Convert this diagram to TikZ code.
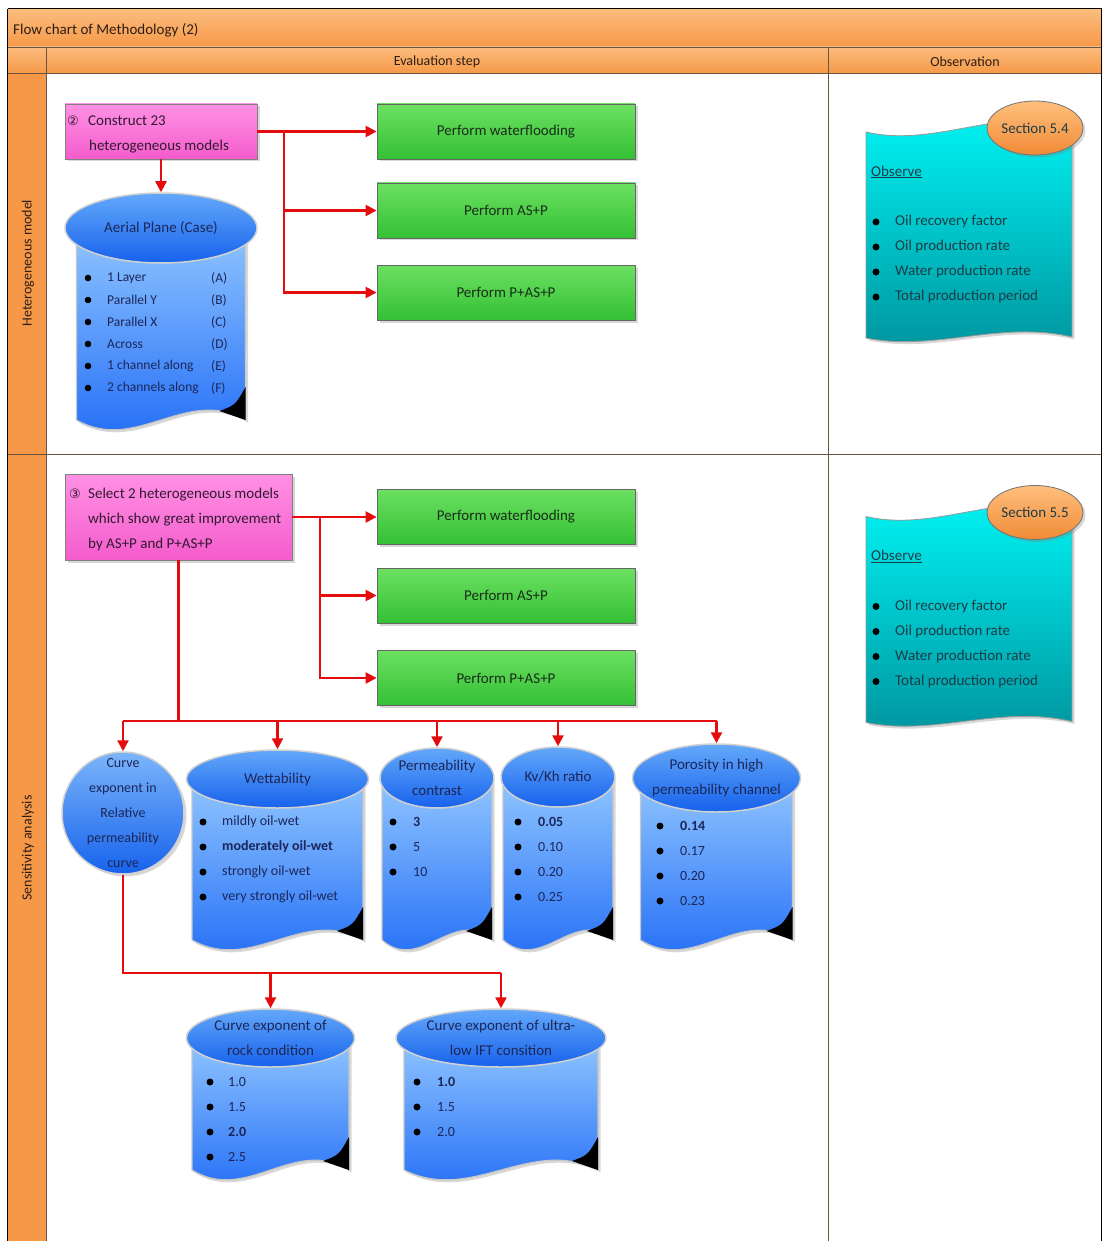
\documentclass[tikz,border=0pt]{standalone}
\usepackage{fontspec}
\setmainfont{Carlito}
\newfontfamily\symfamily{DejaVu Sans}
\usetikzlibrary{arrows.meta,shapes.geometric,shadows}

\definecolor{hdrtop}{RGB}{251,188,125}
\definecolor{hdrbot}{RGB}{246,152,72}
\definecolor{hdrtext}{RGB}{45,30,20}
\definecolor{rulecol}{RGB}{105,85,65}
\definecolor{arrred}{RGB}{228,12,12}
\definecolor{greentop}{RGB}{108,224,98}
\definecolor{greenbot}{RGB}{52,192,52}
\definecolor{greentext}{RGB}{25,45,25}
\definecolor{pinktop}{RGB}{255,145,228}
\definecolor{pinkbot}{RGB}{244,92,204}
\definecolor{pinktext}{RGB}{50,25,50}
\definecolor{cyltop}{RGB}{145,198,255}
\definecolor{cylbot}{RGB}{28,104,246}
\definecolor{captop}{RGB}{100,168,250}
\definecolor{capbot}{RGB}{22,98,236}
\definecolor{navytext}{RGB}{28,38,88}
\definecolor{doctop}{RGB}{0,246,246}
\definecolor{docbot}{RGB}{0,148,158}
\definecolor{obstext}{RGB}{30,60,70}
\definecolor{sectop}{RGB}{255,192,125}
\definecolor{secbot}{RGB}{240,138,55}

\newcommand\setfs[2]{\fontsize{#1}{#2}\selectfont}

\tikzset{
  rule/.style={draw=rulecol, line width=0.9pt},
  hdrlabel/.style={text=hdrtext, font=\setfs{14}{17}, inner sep=0pt},
  redline/.style={draw=arrred, line width=2.4pt},
  redarrow/.style={redline, -{Triangle[length=11pt,width=11pt]}},
  softshadow/.style={drop shadow={shadow xshift=2.5pt, shadow yshift=-2.5pt, opacity=0.3}},
  stepbox/.style={rectangle, draw=black!60, line width=0.8pt, top color=greentop,
    bottom color=greenbot, minimum width=258pt, minimum height=55pt, inner sep=0pt,
    font=\setfs{15}{18}, text=greentext, softshadow},
  taskbox/.style={rectangle, draw=black!50, line width=0.8pt, top color=pinktop,
    bottom color=pinkbot, inner sep=0pt, softshadow},
  tasktext/.style={align=left, anchor=west, font=\setfs{15}{25}, text=pinktext, inner sep=0pt},
  cylbody/.style={top color=cyltop, bottom color=cylbot, draw=white!78!black,
    line width=1.2pt, softshadow},
  cylcap/.style={ellipse, top color=captop, bottom color=capbot, draw=white!82!black,
    line width=1.5pt, inner sep=0pt},
  captext/.style={align=center, font=\setfs{15}{25}, text=navytext, inner sep=0pt},
  itemtext/.style={anchor=west, font=\setfs{14}{17}, text=navytext, inner sep=0pt},
  docbody/.style={top color=doctop, bottom color=docbot, draw=black!40, line width=0.8pt, softshadow},
  secoval/.style={ellipse, top color=sectop, bottom color=secbot, draw=black!55,
    line width=0.8pt, inner sep=0pt, minimum width=96pt, minimum height=54pt, softshadow},
  obslabel/.style={anchor=west, font=\setfs{15}{18}, text=obstext, inner sep=0pt},
}

% tape cylinder: #1 name, #2 cx, #3 cap cy, #4 cap rx, #5 cap ry, #6 body half width, #7 bottom y, #8 title
\newcommand\tapecyl[8]{%
  \pgfmathsetmacro\cylL{#2-#6}%
  \pgfmathsetmacro\cylR{#2+#6}%
  \pgfmathsetmacro\cylW{2*#6}%
  \path[cylbody] (\cylL,#3) -- (\cylL,#7)
     .. controls ({\cylL+0.35*\cylW},{#7+34}) and ({\cylL+0.65*\cylW},{#7-34}) .. (\cylR,#7)
     -- (\cylR,#3) -- cycle;
  \fill[black] ({\cylR-26},{#7-9}) .. controls ({\cylR-10},{#7-15}) .. (\cylR,{#7-33})
     -- (\cylR,#7) -- cycle;
  \node[cylcap, minimum width={2*#4}, minimum height={2*#5}] (#1) at (#2,#3) {};
  \node[captext] (#1-t) at (#1.center) {#8};
}

% bullet list: #1 prefix, #2 bullet x, #3 text x, #4 first y, #5 step, #6 items
\newcommand\bulletlist[6]{%
  \foreach \itm [count=\k] in {#6} {
    \pgfmathsetmacro\yy{#4+(\k-1)*#5}
    \fill[black] (#2,\yy) circle (3.5pt);
    \node[itemtext] (#1-\k) at (#3,\yy) {\itm};
  }%
}

% observation sheet: #1 prefix, #2 vertical offset, #3 section
\newcommand\obsdoc[3]{%
  \begin{scope}[shift={(0,#2)}]
    \path[docbody] (866,132) .. controls (935,148) and (1000,106) .. (1072,125)
      -- (1072,337) .. controls (1000,320) and (935,352) .. (866,338) -- cycle;
    \node[secoval] (#1-sec) at (1035,128) {};
    \node[obslabel, anchor=center] (#1-sect) at (#1-sec.center) {#3};
    \node[obslabel] (#1-head) at (871,172) {\underline{Observe}};
    \foreach \itm [count=\k] in {Oil recovery factor, Oil production rate,
        Water production rate, Total production period} {
      \pgfmathsetmacro\yy{222+(\k-1)*25}
      \fill[black] (876,\yy) circle (3.5pt);
      \node[obslabel] (#1-\k) at (895,\yy) {\itm};
    }
  \end{scope}%
}

\begin{document}
\begin{tikzpicture}[x=1pt,y=-1pt]
\useasboundingbox (0,0) rectangle (1102,1241);
\fill[white] (0,0) rectangle (1102,1241);

% swimlane frame
\shade[top color=hdrtop, bottom color=hdrbot] (8,9.5) rectangle (1102,47);
\shade[top color=hdrtop, bottom color=hdrbot] (8,47) rectangle (1102,73.5);
\fill[hdrbot] (8,73.5) rectangle (46,1241);
\draw[rule] (8,47) -- (1102,47);
\draw[rule] (8,73.5) -- (1102,73.5);
\draw[rule] (46,47) -- (46,1241);
\draw[rule] (828,47) -- (828,1241);
\draw[rule] (8,454) -- (1102,454);
\draw[black, line width=1pt] (7.5,9) -- (1101.5,9) -- (1101.5,1241);
\draw[black, line width=1pt] (7.5,9) -- (7.5,1241);

\node[hdrlabel, anchor=west, font=\setfs{15}{18}] (title) at (13,30) {Flow chart of Methodology (2)};
\node[hdrlabel] (evalhdr) at (437,62) {Evaluation step};
\node[hdrlabel] (obshdr) at (965,62) {Observation};
\node[hdrlabel, rotate=90] (lane1) at (28,263) {Heterogeneous model};
\node[hdrlabel, rotate=90] (lane2) at (28,848) {Sensitivity analysis};

% ---- heterogeneous model lane ----
\node[taskbox, minimum width=192pt, minimum height=55pt] (p1) at (161,131.5) {};
\node[tasktext] (p1-t) at (67,134)
  {\makebox[21pt][l]{\symfamily\setfs{13}{14}②}Construct 23\\\hspace{22pt}heterogeneous models};

\node[stepbox] (g1) at (506,131.5) {Perform waterflooding};
\node[stepbox] (g2) at (506,210.5) {Perform AS+P};
\node[stepbox] (g3) at (506,292.5) {Perform P+AS+P};

\tapecyl{aerial}{161}{228}{96}{35}{84.5}{420}{Aerial Plane (Case)}
\foreach \itm/\lab [count=\k] in {1 Layer/(A), Parallel Y/(B), Parallel X/(C),
    Across/(D), 1 channel along/(E), 2 channels along/(F)} {
  \pgfmathsetmacro\yy{278+(\k-1)*22}
  \fill[black] (88,\yy) circle (3.3pt);
  \node[itemtext, font=\setfs{13.5}{16}] (aer-\k) at (107,\yy) {\itm};
  \node[itemtext, font=\setfs{13.5}{16}] (aerl-\k) at (211,\yy) {\lab};
}

\coordinate (j1) at (284,131.5);
\draw[redarrow] (p1.east) -- (g1.west);
\draw[redarrow] (j1) |- (g2.west);
\draw[redarrow] (j1) |- (g3.west);
\draw[redarrow] (p1.south) -- (aerial.north);

\obsdoc{obs1}{0}{Section 5.4}

% ---- sensitivity analysis lane ----
\node[taskbox, minimum width=227pt, minimum height=86pt] (p2) at (178.5,517) {};
\node[tasktext] (p2-t) at (69,519)
  {\makebox[19pt][l]{\symfamily\setfs{13}{14}③}Select 2 heterogeneous models\\
   \hspace{19pt}which show great improvement\\
   \hspace{19pt}by AS+P and P+AS+P};

\node[stepbox] (g4) at (506,517) {Perform waterflooding};
\node[stepbox] (g5) at (506,595.5) {Perform AS+P};
\node[stepbox] (g6) at (506,678) {Perform P+AS+P};

\coordinate (j2) at (320,517);
\draw[redarrow] (p2.east) -- (g4.west);
\draw[redarrow] (j2) |- (g5.west);
\draw[redarrow] (j2) |- (g6.west);

\obsdoc{obs2}{384.5}{Section 5.5}

% parameter shapes
\node[circle, minimum size=122pt, top color=captop!85!white, bottom color=capbot,
  draw=white!82!black, line width=1.5pt, softshadow] (crv) at (123,813) {};
\node[captext, font=\setfs{14}{25}] (crv-t) at (crv.center)
  {Curve\\exponent in\\Relative\\permeability\\curve};

\tapecyl{wet}{277.5}{779}{91}{29}{85.5}{940}{Wettability}
\bulletlist{wet}{203}{222}{822}{25}{mildly oil-wet,\textbf{moderately oil-wet},strongly oil-wet,very strongly oil-wet}

\tapecyl{perm}{437}{778}{57}{30}{55}{940}{Permeability\\contrast}
\bulletlist{perm}{393}{413}{822}{25}{\textbf{3},5,10}

\tapecyl{kv}{558}{777}{57}{30}{55}{940}{Kv/Kh ratio}
\bulletlist{kv}{518}{538}{822}{25}{\textbf{0.05},0.10,0.20,0.25}

\tapecyl{por}{716.5}{778}{84}{34}{76}{940}{Porosity in high\\permeability channel}
\bulletlist{por}{660}{680}{826}{25}{\textbf{0.14},0.17,0.20,0.23}

\tapecyl{rock}{270.5}{1038}{84}{29}{78.5}{1170}{Curve exponent of\\rock condition}
\bulletlist{rock}{210}{228}{1082}{25}{1.0,1.5,\textbf{2.0},2.5}

\tapecyl{ift}{501}{1038}{105}{29}{97}{1170}{Curve exponent of ultra-\\low IFT consition}
\bulletlist{ift}{417}{437}{1082}{25}{\textbf{1.0},1.5,2.0}

% distribution bus to the parameter shapes
\coordinate (bus) at (178.5,721);
\coordinate (busL) at (123,721);
\coordinate (busR) at (716.5,721);
\draw[redline] (p2.south) -- (bus);
\draw[redline] (busL) -- (busR);
\draw[redarrow] (busL) -- (crv.north);
\draw[redarrow] (busL -| wet.north) -- (wet.north);
\draw[redarrow] (busL -| perm.north) -- (perm.north);
\draw[redarrow] (busL -| kv.north) -- (kv.north);
\draw[redarrow] (busR) -- (por.north);

% relative permeability curve branches
\coordinate (cL) at (123,973);
\draw[redline] (crv.south) -- (cL) -- (cL -| ift.north);
\draw[redarrow] (cL -| rock.north) -- (rock.north);
\draw[redarrow] (cL -| ift.north) -- (ift.north);
\end{tikzpicture}
\end{document}
